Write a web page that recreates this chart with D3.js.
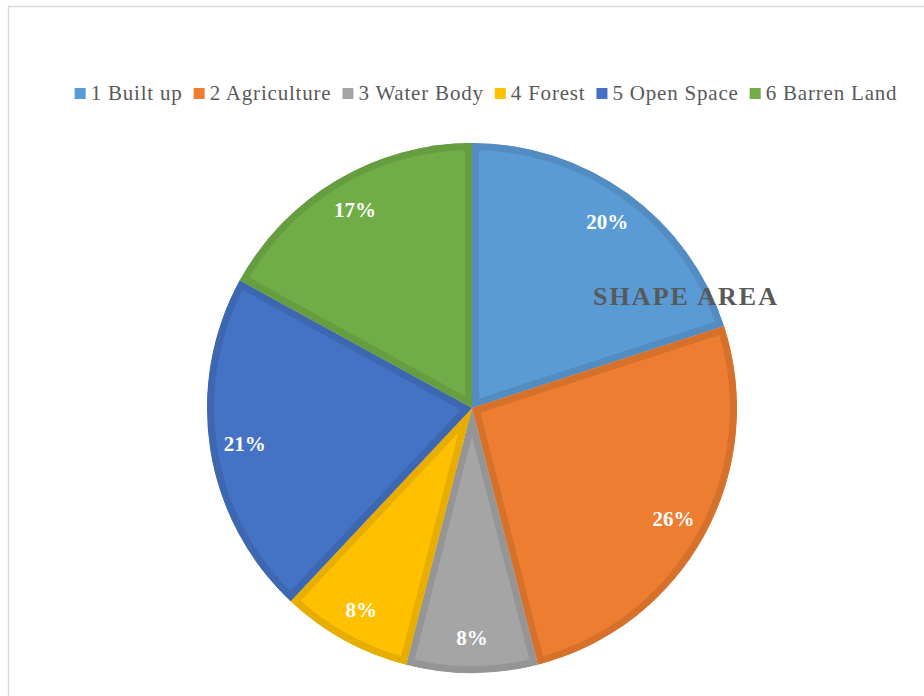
<!DOCTYPE html>
<html>
<head>
<meta charset="utf-8">
<script src="https://cdn.jsdelivr.net/npm/d3@7/dist/d3.min.js"></script>
<style>
  html, body { margin: 0; padding: 0; background: #ffffff; }
  svg { display: block; }
</style>
</head>
<body>
<svg id="chart" width="924" height="696"></svg>
<script>
// Land-use shares of the mapped area
const categories = ["1 Built up", "2 Agriculture", "3 Water Body", "4 Forest", "5 Open Space", "6 Barren Land"];
const shares = [20, 26, 8, 8, 21, 17];
const colors = ["#5b9bd5", "#ed7d31", "#a5a5a5", "#ffc000", "#4472c4", "#70ad47"];
const title = "SHAPE AREA";

const W = 924, H = 696;
const serif = "'Liberation Serif', 'Times New Roman', 'DejaVu Serif', serif";
const svg = d3.select("#chart");

// chart frame
svg.append("rect")
  .attr("x", 8.5).attr("y", 6.5)
  .attr("width", W + 20).attr("height", H + 20)
  .attr("fill", "#ffffff")
  .attr("stroke", "#d9d9d9").attr("stroke-width", 1.5);

const cx = 472, cy = 408, R = 265, border = 7;
const data = categories.map((c, i) => ({ name: c, value: shares[i], color: colors[i] }));

const pie = d3.pie().value(d => d.value).sort(null);
const arcs = pie(data);
const arc = d3.arc().innerRadius(0).outerRadius(R);
const labelArc = d3.arc().innerRadius(230).outerRadius(230);

const g = svg.append("g").attr("transform", `translate(${cx},${cy})`);
const defs = svg.append("defs");

arcs.forEach((a, i) => {
  defs.append("clipPath").attr("id", "slice" + i)
    .append("path").attr("d", arc(a));
});

// each slice: flat fill with a darker inner edge
g.selectAll("path.slice")
  .data(arcs)
  .join("path")
  .attr("class", "slice")
  .attr("d", arc)
  .attr("fill", d => d.data.color)
  .attr("stroke", d => d3.color(d.data.color).darker(0.28))
  .attr("stroke-width", border * 2)
  .attr("stroke-linejoin", "miter")
  .attr("clip-path", (d, i) => `url(#slice${i})`);

// percentage labels
g.selectAll("text.pct")
  .data(arcs)
  .join("text")
  .attr("class", "pct")
  .attr("transform", d => `translate(${labelArc.centroid(d)})`)
  .attr("text-anchor", "middle")
  .attr("dy", "0.35em")
  .attr("font-family", serif)
  .attr("font-weight", "bold")
  .attr("font-size", 21)
  .attr("fill", "#ffffff")
  .text(d => d.data.value + "%");

// title laid over the chart
svg.append("text")
  .attr("x", 685).attr("y", 305)
  .attr("text-anchor", "middle")
  .attr("font-family", serif)
  .attr("font-weight", "bold")
  .attr("font-size", 26)
  .attr("textLength", 184)
  .attr("lengthAdjust", "spacing")
  .attr("fill", "#595959")
  .text(title);

// legend row
const legend = svg.append("g");
const fontSize = 21, sw = 11, gapSym = 5, gapItem = 11;
const items = legend.selectAll("g.item").data(data).join("g").attr("class", "item");
items.append("rect")
  .attr("width", sw).attr("height", sw)
  .attr("y", -12)
  .attr("fill", d => d.color);
items.append("text")
  .attr("x", sw + gapSym)
  .attr("y", 0)
  .attr("font-family", serif)
  .attr("font-size", fontSize)
  .attr("letter-spacing", 0.8)
  .attr("fill", "#595959")
  .text(d => d.name);

const widths = [];
items.each(function () {
  const t = d3.select(this).select("text").node();
  widths.push(sw + gapSym + t.getBBox().width);
});
const total = d3.sum(widths) + gapItem * (widths.length - 1);
let x0 = 486 - total / 2;
items.attr("transform", (d, i) => {
  const t = `translate(${x0},100)`;
  x0 += widths[i] + gapItem;
  return t;
});
</script>
</body>
</html>
